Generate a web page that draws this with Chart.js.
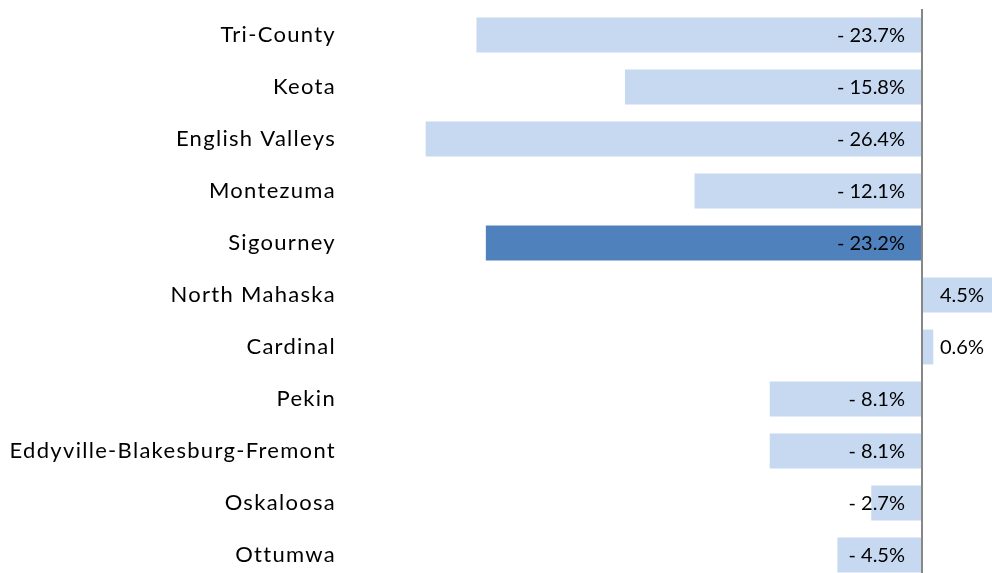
<!DOCTYPE html>
<html lang="en">

<head>
    <meta charset="UTF-8">
    <script src="https://cdn.jsdelivr.net/npm/chart.js@4.4.0/dist/chart.umd.min.js"></script>
    <title>District change</title>
    <style>
        html, body { margin: 0; padding: 0; overflow: hidden; background: #fff; }
        #wrap { width: 1016px; height: 581px; position: relative; }
    </style>
</head>

<body>
    <div id="wrap">
        <canvas id="myChart"></canvas>
    </div>
    <script>
        const districts = ['Tri-County', 'Keota', 'English Valleys', 'Montezuma', 'Sigourney', 'North Mahaska',
            'Cardinal', 'Pekin', 'Eddyville-Blakesburg-Fremont', 'Oskaloosa', 'Ottumwa'];
        const change = [-23.7, -15.8, -26.4, -12.1, -23.2, 4.5, 0.6, -8.1, -8.1, -2.7, -4.5];
        const highlight = 'Sigourney';

        const fmt = (v) => (v < 0 ? '- ' + Math.abs(v).toFixed(1) : v.toFixed(1)) + '%';

        // wider glyph spacing for the category names, like the original rendering
        const spacingPlugin = {
            id: 'spacing',
            beforeDraw(chart) {
                chart.ctx.letterSpacing = '1.3px';
            }
        };

        const labelPlugin = {
            id: 'barLabels',
            afterDatasetsDraw(chart) {
                const ctx = chart.ctx;
                const zero = chart.scales.x.getPixelForValue(0);
                ctx.save();
                ctx.letterSpacing = '0px';
                ctx.font = '20px Lato, Carlito, sans-serif';
                ctx.fillStyle = '#000';
                ctx.textBaseline = 'middle';
                chart.getDatasetMeta(0).data.forEach((bar, i) => {
                    const v = change[i];
                    if (v < 0) {
                        ctx.textAlign = 'right';
                        ctx.fillText(fmt(v), zero - 17, bar.y + 1);
                    } else {
                        ctx.textAlign = 'left';
                        ctx.fillText(fmt(v), zero + 18, bar.y + 1);
                    }
                });
                ctx.restore();
            }
        };

        const ctx = document.getElementById('myChart').getContext('2d');
        const myChart = new Chart(ctx, {
            type: 'bar',
            data: {
                labels: districts,
                datasets: [{
                    data: change,
                    backgroundColor: districts.map(d => d === highlight ? '#4f81bd' : '#c6d9f1'),
                    borderWidth: 0,
                    categoryPercentage: 1,
                    barPercentage: 0.67
                }]
            },
            options: {
                indexAxis: 'y',
                responsive: true,
                maintainAspectRatio: false,
                animation: false,
                layout: { padding: { top: 9, right: 0, bottom: 0, left: 0 } },
                plugins: {
                    legend: { display: false },
                    tooltip: { enabled: false }
                },
                scales: {
                    x: {
                        min: -30,
                        max: 5,
                        afterFit: (scale) => { scale.height = 0; scale.paddingLeft = 0; scale.paddingRight = 0; },
                        ticks: { display: false, stepSize: 5 },
                        border: { display: false },
                        grid: {
                            drawTicks: false,
                            lineWidth: 2,
                            color: (c) => c.tick && c.tick.value === 0 ? '#878787' : 'rgba(0,0,0,0)'
                        }
                    },
                    y: {
                        afterFit: (scale) => { scale.width = 358; scale.paddingTop = 0; scale.paddingBottom = 0; },
                        ticks: {
                            padding: 22,
                            color: '#000',
                            font: { family: 'Lato, Carlito, sans-serif', size: 22 }
                        },
                        border: { display: false },
                        grid: { display: false, drawTicks: false }
                    }
                }
            },
            plugins: [spacingPlugin, labelPlugin]
        });
    </script>
</body>

</html>
